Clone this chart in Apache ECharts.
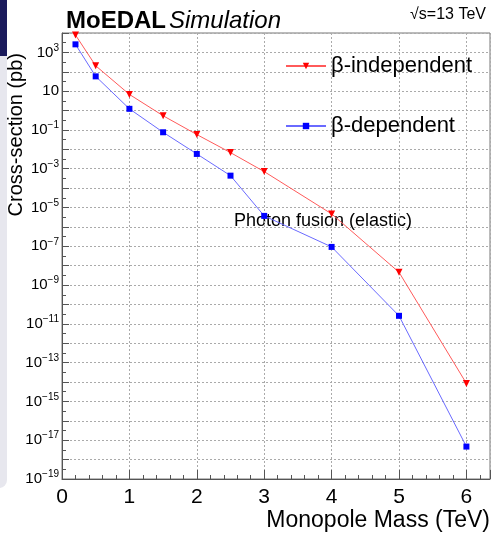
<!DOCTYPE html>
<html>
<head>
<meta charset="utf-8">
<script src="https://cdn.jsdelivr.net/npm/echarts@6/dist/echarts.min.js"></script>
<style>
  html, body { margin: 0; padding: 0; background: #fff; }
  #chart { width: 493px; height: 533px; }
</style>
</head>
<body>
<div id="chart"></div>
<script>
// monopole mass (TeV) and cross-sections (pb)
const massTeV = [0.2, 0.5, 1, 1.5, 2, 2.5, 3, 4, 5, 6];
const xsecBetaIndep = [7900, 204, 6.8, 0.54, 0.058, 6.8e-3, 7.1e-4, 4.7e-6, 4.6e-9, 8.5e-15];
const xsecBetaDep = [2600, 58, 1.23, 0.076, 5.8e-3, 4.4e-4, 3.7e-6, 9.3e-8, 2.6e-11, 4.7e-18];
const seriesNames = ["β-independent", "β-dependent"];
const xTicks = [0, 1, 2, 3, 4, 5, 6];

const font = "Liberation Sans, Arial, sans-serif";
const chart = echarts.init(document.getElementById("chart"));

// plot on log10 of the value, labels written back as powers of ten
const toPts = (ys) => massTeV.map((m, i) => [m, Math.log10(ys[i])]);
const supLabel = (v) => {
  if (Math.abs(v % 2) !== 1) return "";
  if (v === 1) return "10";
  return "10{s|" + (v < 0 ? "−" + (-v) : v) + "}";
};

const option = {
  animation: false,
  textStyle: { fontFamily: font },
  title: {
    text: "{a|MoEDAL}{b|Simulation}",
    left: 61,
    top: 4,
    textStyle: {
      rich: {
        a: { fontSize: 24, fontWeight: "bold", color: "#000", fontFamily: font },
        b: { fontSize: 24, fontWeight: "normal", fontStyle: "italic", color: "#000", fontFamily: font, padding: [0, 0, 0, 3] }
      }
    }
  },
  grid: {
    left: 62, right: 1, top: 33, bottom: 54,
    show: true, borderColor: "#777", borderWidth: 1
  },
  legend: {
    orient: "vertical",
    left: 280,
    top: 50,
    itemWidth: 40,
    itemHeight: 8,
    itemGap: 38,
    textStyle: { fontSize: 22, color: "#000", fontFamily: font },
    data: seriesNames
  },
  xAxis: {
    type: "value",
    min: 0,
    max: 6.35,
    interval: 1,
    name: "Monopole Mass (TeV)",
    nameLocation: "end",
    nameGap: 0,
    nameTextStyle: { fontSize: 23, color: "#000", align: "right", verticalAlign: "top", padding: [30, 0, 0, 0] },
    axisLine: { show: true, onZero: false, lineStyle: { color: "#555" } },
    axisTick: { inside: true, length: 9, lineStyle: { color: "#555" } },
    minorTick: { show: true, splitNumber: 5, length: 4, lineStyle: { color: "#555" } },
    axisLabel: {
      fontSize: 21, color: "#000", margin: 8, showMaxLabel: false,
      formatter: (v) => (xTicks.indexOf(v) >= 0 ? String(v) : "")
    },
    splitLine: { show: true, lineStyle: { color: "#aaa", type: [2, 2] } }
  },
  yAxis: {
    type: "value",
    min: -19,
    max: 4,
    interval: 1,
    name: "Cross-section (pb)",
    nameLocation: "end",
    nameRotate: 90,
    nameGap: 0,
    nameTextStyle: { fontSize: 20, color: "#000", align: "right", verticalAlign: "bottom", padding: [0, 20, 36, 0] },
    axisLine: { show: true, onZero: false, lineStyle: { color: "#555" } },
    axisTick: { inside: true, length: 7, lineStyle: { color: "#555" } },
    minorTick: { show: true, splitNumber: 2, length: 4, lineStyle: { color: "#555" } },
    axisLabel: {
      fontSize: 15, color: "#000", margin: 3,
      formatter: supLabel,
      rich: { s: { fontSize: 10, verticalAlign: "top", padding: [0, 0, 9, 0], color: "#000" } }
    },
    splitLine: { show: true, lineStyle: { color: "#aaa", type: [2, 2] } }
  },
  graphic: [
    { type: "rect", z: -10, shape: { x: 0, y: 0, width: 7, height: 56 }, style: { fill: "#1b1b5c" } },
    { type: "rect", z: -10, shape: { x: -8, y: 56, width: 15, height: 432, r: [0, 0, 8, 0] }, style: { fill: "#e7e7ee" } },
    { type: "text", right: 7, top: 7, style: { text: "√s=13 TeV", font: "16px " + font, fill: "#000" } },
    { type: "text", left: 234, top: 212, style: { text: "Photon fusion (elastic)", font: "18px " + font, fill: "#000" } }
  ],
  series: [
    {
      name: seriesNames[0],
      type: "line",
      data: toPts(xsecBetaIndep),
      symbol: "triangle",
      symbolRotate: 180,
      symbolSize: 7,
      lineStyle: { color: "#ff5a5a", width: 1 },
      itemStyle: { color: "#ff0000" }
    },
    {
      name: seriesNames[1],
      type: "line",
      data: toPts(xsecBetaDep),
      symbol: "rect",
      symbolSize: 6,
      lineStyle: { color: "#6a6aff", width: 1 },
      itemStyle: { color: "#0000ff" }
    }
  ]
};

chart.setOption(option);
</script>
</body>
</html>
